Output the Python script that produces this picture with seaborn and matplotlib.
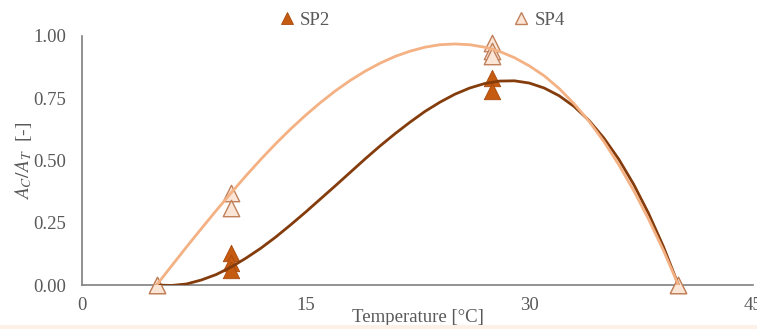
import numpy as np
import pandas as pd
import matplotlib
matplotlib.use("Agg")
import matplotlib.pyplot as plt
from matplotlib.lines import Line2D
from matplotlib.patches import Rectangle
import seaborn as sns

# ---- data ----
sp2_temp = [5, 10, 10, 10, 27.5, 27.5, 40]
sp2_val = [0.0, 0.13, 0.09, 0.06, 0.83, 0.78, 0.0]
sp4_temp = [5, 10, 10, 27.5, 27.5, 27.5, 40]
sp4_val = [0.0, 0.37, 0.31, 0.97, 0.94, 0.92, 0.0]

curve_temp = list(range(5, 41))
sp2_curve = [0.0, -0.002, 0.004, 0.020, 0.042, 0.072, 0.108, 0.148, 0.193, 0.242,
             0.293, 0.346, 0.399, 0.453, 0.507, 0.559, 0.608, 0.654, 0.697, 0.734,
             0.766, 0.791, 0.809, 0.819, 0.820, 0.811, 0.791, 0.760, 0.717, 0.661,
             0.590, 0.505, 0.404, 0.287, 0.153, 0.0]
sp4_curve = [0.0, 0.076, 0.152, 0.226, 0.299, 0.370, 0.439, 0.505, 0.568, 0.627,
             0.682, 0.733, 0.780, 0.822, 0.859, 0.891, 0.918, 0.939, 0.955, 0.965,
             0.968, 0.965, 0.955, 0.938, 0.913, 0.880, 0.840, 0.789, 0.728, 0.658,
             0.576, 0.483, 0.379, 0.264, 0.138, 0.0]

x_ticks = [0, 15, 30, 45]
y_ticks = [0.0, 0.25, 0.5, 0.75, 1.0]

# ---- styling ----
sns.set_theme(style="white")
plt.rcParams["font.family"] = ["Liberation Serif", "DejaVu Serif"]
plt.rcParams["mathtext.fontset"] = "stix"

GRAY = "#595959"
AXGRAY = "#7f7f7f"
SP2_FACE = "#C55A11"
SP2_EDGE = "#A9490C"
SP2_LINE = "#843C0C"
SP4_FACE = "#FBE5D6"
SP4_EDGE = "#C0805A"
SP4_LINE = "#F4B183"

pts = pd.concat([
    pd.DataFrame({"T": sp2_temp, "v": sp2_val, "s": "SP2"}),
    pd.DataFrame({"T": sp4_temp, "v": sp4_val, "s": "SP4"}),
])
cur = pd.concat([
    pd.DataFrame({"T": curve_temp, "v": sp2_curve, "s": "SP2"}),
    pd.DataFrame({"T": curve_temp, "v": sp4_curve, "s": "SP4"}),
])

fig = plt.figure(figsize=(7.57, 3.29), dpi=100)
ax = fig.add_axes([82 / 757, 44 / 329, (753 - 82) / 757, (285 - 36) / 329])

sns.scatterplot(data=pts[pts.s == "SP2"], x="T", y="v", marker="^", s=140,
                color=SP2_FACE, edgecolor=SP2_EDGE, linewidth=0.6, ax=ax,
                zorder=2, legend=False)
sns.scatterplot(data=pts[pts.s == "SP4"], x="T", y="v", marker="^", s=140,
                color=SP4_FACE, edgecolor=SP4_EDGE, linewidth=1.0, ax=ax,
                zorder=3, legend=False)
sns.lineplot(data=cur[cur.s == "SP2"], x="T", y="v", color=SP2_LINE, lw=2.0,
             ax=ax, zorder=4, legend=False)
sns.lineplot(data=cur[cur.s == "SP4"], x="T", y="v", color=SP4_LINE, lw=2.0,
             ax=ax, zorder=4, legend=False)
for coll in ax.collections:
    coll.set_clip_on(False)

ax.set_xlim(0, 45)
ax.set_ylim(0, 1.0)
ax.set_xticks(x_ticks)
ax.set_yticks(y_ticks)
ax.set_xticklabels([str(t) for t in x_ticks])
ax.set_yticklabels([f"{t:.2f}" for t in y_ticks])
for sp in ["top", "right"]:
    ax.spines[sp].set_visible(False)
for sp in ["left", "bottom"]:
    ax.spines[sp].set_color(AXGRAY)
    ax.spines[sp].set_linewidth(1.2)
    ax.spines[sp].set_zorder(1)
ax.tick_params(axis="both", direction="inout", length=7, width=1.0,
               color=AXGRAY, labelcolor=GRAY, labelsize=13.5)
ax.tick_params(axis="y", pad=8)
ax.tick_params(axis="x", pad=5)
ax.patch.set_alpha(0)

ax.set_xlabel("Temperature [°C]", fontsize=13.5, color=GRAY, va="center")
ax.xaxis.set_label_coords(0.5, (285 - 318) / 249)
ax.set_ylabel(r"$A_C/A_T$  [-]", fontsize=14, color=GRAY, va="center")
ax.yaxis.set_label_coords(-(82 - 24) / 671, 0.5)

handles = [
    Line2D([], [], ls="none", marker="^", markersize=9, markerfacecolor=SP2_FACE,
           markeredgecolor=SP2_EDGE, markeredgewidth=0.6),
    Line2D([], [], ls="none", marker="^", markersize=9, markerfacecolor=SP4_FACE,
           markeredgecolor=SP4_EDGE, markeredgewidth=1.0),
]
leg = fig.legend(handles, ["SP2", "SP4"], ncol=2, loc="center",
                 bbox_to_anchor=(422 / 757, 1 - 20 / 329), frameon=False,
                 fontsize=13.5, handlelength=0.8, handletextpad=0.3,
                 columnspacing=9.8)
for t in leg.get_texts():
    t.set_color(GRAY)

fig.patches.append(Rectangle((0, 0), 1, 4 / 329, transform=fig.transFigure,
                             facecolor="#FDF1E7", edgecolor="none", zorder=0))

fig.savefig("out.png", dpi=100)
